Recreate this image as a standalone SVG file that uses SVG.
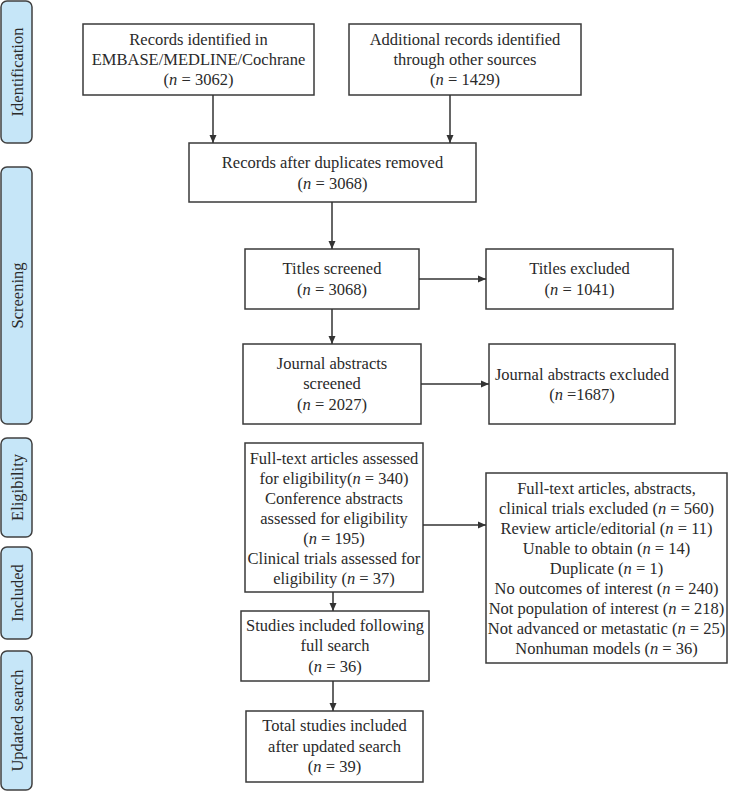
<svg xmlns="http://www.w3.org/2000/svg" width="732" height="791" viewBox="0 0 732 791">
<style>
  .bg{fill:#ffffff}
  .phase rect{fill:#c6e6f8;stroke:#404040;stroke-width:1.5}
  .phase text{font-size:16.5px;fill:#2a2a2a;text-anchor:middle}
  .box rect{fill:#ffffff;stroke:#3a3a3a;stroke-width:1.5}
  .box text{font-size:16.5px;fill:#2a2a2a;text-anchor:middle}
  .it{font-style:italic}
  #connectors line{stroke:#333333;stroke-width:1.5;fill:none;marker-end:url(#ah)}
</style>
<defs>
  <marker id="ah" markerWidth="8" markerHeight="8" viewBox="0 0 8 8" refX="8" refY="4" orient="auto" markerUnits="userSpaceOnUse">
    <path d="M0,0.5 L8,4 L0,7.5 Z" fill="#333333"/>
  </marker>
</defs>
<rect class="bg" x="0" y="0" width="732" height="791"/>
<g font-family="Liberation Serif, DejaVu Serif, serif">
<g id="phase-identification" class="phase">
  <rect x="1" y="1" width="31" height="142" rx="6"/>
  <text transform="translate(17,72) rotate(-90)" y="5.5">Identification</text>
</g>
<g id="phase-screening" class="phase">
  <rect x="1" y="167" width="31" height="257" rx="6"/>
  <text transform="translate(17,295.5) rotate(-90)" y="5.5">Screening</text>
</g>
<g id="phase-eligibility" class="phase">
  <rect x="1" y="438" width="31" height="99" rx="6"/>
  <text transform="translate(17,487.5) rotate(-90)" y="5.5">Eligibility</text>
</g>
<g id="phase-included" class="phase">
  <rect x="1" y="547" width="31" height="92" rx="6"/>
  <text transform="translate(17,593) rotate(-90)" y="5.5">Included</text>
</g>
<g id="phase-updated" class="phase">
  <rect x="1" y="651" width="31" height="139" rx="6"/>
  <text transform="translate(17,720.5) rotate(-90)" y="5.5">Updated search</text>
</g>

<g id="records-db" class="box">
  <rect x="83" y="24" width="231" height="71"/>
  <text x="198.5" y="45">Records identified in</text>
  <text x="198.5" y="65">EMBASE/MEDLINE/Cochrane</text>
  <text x="198.5" y="85">(<tspan class="it">n</tspan> = 3062)</text>
</g>
<g id="records-other" class="box">
  <rect x="349" y="24" width="232" height="71"/>
  <text x="465" y="45">Additional records identified</text>
  <text x="465" y="65">through other sources</text>
  <text x="465" y="85">(<tspan class="it">n</tspan> = 1429)</text>
</g>
<g id="dedup" class="box">
  <rect x="189" y="143" width="287" height="59"/>
  <text x="332.5" y="168">Records after duplicates removed</text>
  <text x="332.5" y="189">(<tspan class="it">n</tspan> = 3068)</text>
</g>
<g id="titles-screened" class="box">
  <rect x="245" y="249" width="174" height="60"/>
  <text x="332" y="274">Titles screened</text>
  <text x="332" y="295">(<tspan class="it">n</tspan> = 3068)</text>
</g>
<g id="titles-excluded" class="box">
  <rect x="486" y="249" width="187" height="60"/>
  <text x="579.5" y="274">Titles excluded</text>
  <text x="579.5" y="295">(<tspan class="it">n</tspan> = 1041)</text>
</g>
<g id="abstracts-screened" class="box">
  <rect x="243" y="344" width="178" height="80"/>
  <text x="332" y="369">Journal abstracts</text>
  <text x="332" y="389">screened</text>
  <text x="332" y="410">(<tspan class="it">n</tspan> = 2027)</text>
</g>
<g id="abstracts-excluded" class="box">
  <rect x="489" y="344" width="186" height="80"/>
  <text x="582" y="380">Journal abstracts excluded</text>
  <text x="582" y="400">(<tspan class="it">n</tspan> =1687)</text>
</g>
<g id="eligibility" class="box">
  <rect x="245" y="443" width="178" height="149"/>
  <text x="334" y="464">Full-text articles assessed</text>
  <text x="334" y="484">for eligibility(<tspan class="it">n</tspan> = 340)</text>
  <text x="334" y="504">Conference abstracts</text>
  <text x="334" y="524">assessed for eligibility</text>
  <text x="334" y="544">(<tspan class="it">n</tspan> = 195)</text>
  <text x="334" y="564">Clinical trials assessed for</text>
  <text x="334" y="584">eligibility (<tspan class="it">n</tspan> = 37)</text>
</g>
<g id="excluded-fulltext" class="box">
  <rect x="486" y="473" width="241" height="190"/>
  <text x="606.5" y="494">Full-text articles, abstracts,</text>
  <text x="606.5" y="514">clinical trials excluded (<tspan class="it">n</tspan> = 560)</text>
  <text x="606.5" y="534">Review article/editorial (<tspan class="it">n</tspan> = 11)</text>
  <text x="606.5" y="554">Unable to obtain (<tspan class="it">n</tspan> = 14)</text>
  <text x="606.5" y="574">Duplicate (<tspan class="it">n</tspan> = 1)</text>
  <text x="606.5" y="594">No outcomes of interest (<tspan class="it">n</tspan> = 240)</text>
  <text x="606.5" y="614">Not population of interest (<tspan class="it">n</tspan> = 218)</text>
  <text x="606.5" y="634">Not advanced or metastatic (<tspan class="it">n</tspan> = 25)</text>
  <text x="606.5" y="654">Nonhuman models (<tspan class="it">n</tspan> = 36)</text>
</g>
<g id="included-full" class="box">
  <rect x="241" y="611" width="188" height="70"/>
  <text x="335" y="631">Studies included following</text>
  <text x="335" y="651">full search</text>
  <text x="335" y="672">(<tspan class="it">n</tspan> = 36)</text>
</g>
<g id="included-updated" class="box">
  <rect x="246" y="711" width="177" height="71"/>
  <text x="334.5" y="731">Total studies included</text>
  <text x="334.5" y="752">after updated search</text>
  <text x="334.5" y="772">(<tspan class="it">n</tspan> = 39)</text>
</g>
</g>
<g id="connectors">
  <line x1="213" y1="95" x2="213" y2="143"/>
  <line x1="450" y1="95" x2="450" y2="143"/>
  <line x1="332" y1="202" x2="332" y2="249"/>
  <line x1="419" y1="279" x2="486" y2="279"/>
  <line x1="332" y1="309" x2="332" y2="344"/>
  <line x1="421" y1="384" x2="489" y2="384"/>
  <line x1="423" y1="525" x2="486" y2="525"/>
  <line x1="333" y1="592" x2="333" y2="611"/>
  <line x1="333" y1="681" x2="333" y2="711"/>
</g>
</svg>
